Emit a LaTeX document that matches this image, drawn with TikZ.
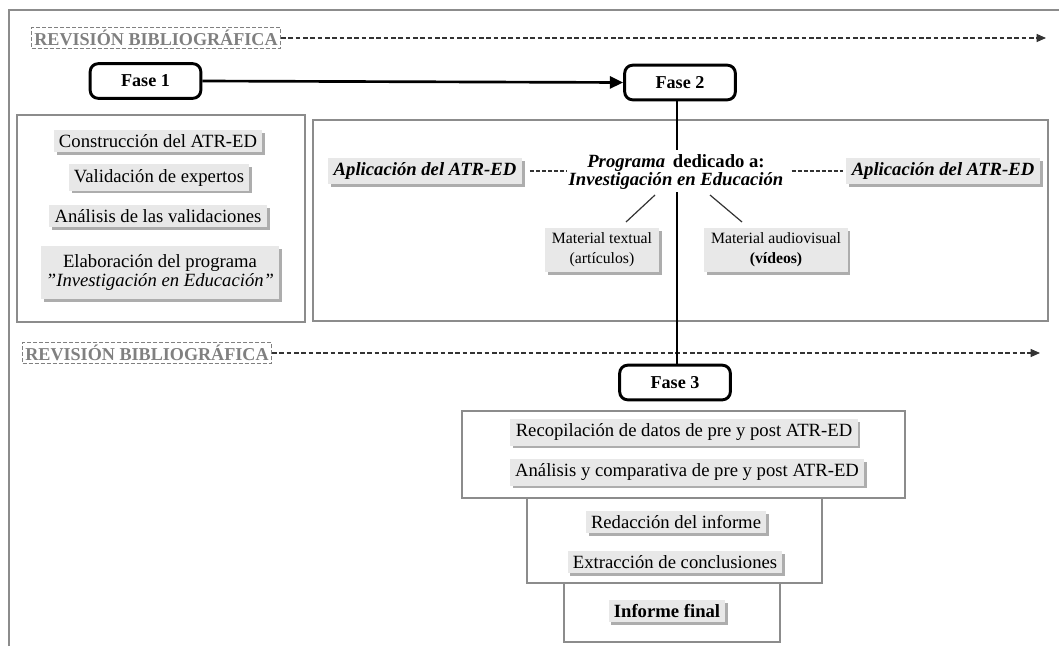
\documentclass[tikz,border=0pt]{standalone}
\usepackage{fontspec}
\setmainfont{Liberation Serif}
\usetikzlibrary{shadows,arrows.meta,calc}
\definecolor{itemfill}{gray}{0.91}
\definecolor{itemshadow}{gray}{0.68}
\definecolor{boxline}{gray}{0.55}
\definecolor{revgray}{gray}{0.5}
\tikzset{
  item/.style={fill=itemfill, inner xsep=4pt, inner ysep=3.4pt, align=center,
    font=\fontsize{14}{14.6}\selectfont,
    drop shadow={shadow xshift=2.2pt, shadow yshift=-2.2pt, fill=itemshadow, opacity=1}},
  smallitem/.style={item, font=\fontsize{11.8}{15}\selectfont, inner ysep=3.6pt, inner xsep=5pt},
  fasebox/.style={draw=black, line width=2.2pt, rounded corners=6pt, minimum width=83pt,
    minimum height=26pt, font=\fontsize{13.6}{14}\selectfont\bfseries},
  revbox/.style={draw=revgray, dashed, dash pattern=on 3pt off 1.5pt, line width=1pt,
    text=revgray, font=\fontsize{13.6}{14}\selectfont\bfseries, inner xsep=2pt, inner ysep=2pt},
  revline/.style={draw=black!80, line width=0.8pt, dash pattern=on 3.5pt off 2pt,
    -{Triangle[length=7pt,width=6pt]}},
  grayframe/.style={draw=boxline, line width=1pt},
  connector/.style={draw=black, line width=2pt},
  thinline/.style={draw=black!80, line width=0.9pt},
  dashlink/.style={draw=black!80, line width=0.8pt, dash pattern=on 3pt off 1.5pt},
}
\begin{document}
\begin{tikzpicture}[x=0.75pt,y=-0.75pt]
\useasboundingbox (0,0) rectangle (1059,646);
\fill[white] (0,0) rectangle (1059,646);
% outer frame
\draw[draw=boxline, line width=1pt] (9,646) -- (9,10) -- (1059,10);

% group frames
\draw[grayframe] (17,115) rectangle (305,322);
\draw[grayframe] (313,120) rectangle (1048,321);
\draw[grayframe] (462,411) rectangle (905,498);
\draw[grayframe] (527,498) rectangle (822,583);
\draw[grayframe] (564,583) rectangle (780,642);

% revision bibliografica
\node[revbox] (rev1) at (156,38) {REVISIÓN BIBLIOGRÁFICA};
\coordinate (rev1end) at (1046,38);
\draw[revline] (rev1.east) -- (rev1end);
\node[revbox] (rev2) at (147,353) {REVISIÓN BIBLIOGRÁFICA};
\coordinate (rev2end) at (1040,353);
\draw[revline] (rev2.east) -- (rev2end);

% phases
\node[fasebox] (f1) at (145.5,81) {Fase 1};
\node[fasebox] (f2) at (680,82.5) {Fase 2};
\node[fasebox] (f3) at (675,382.5) {Fase 3};
\draw[connector, -{Triangle[length=10pt,width=9pt]}] (f1.east) -- (f2.west);

% fase 1 items
\node[item] (c1) at (158,141) {Construcción del ATR-ED};
\node[item] (c2) at (159,177.5) {Validación de expertos};
\node[item] (c3) at (158,216) {Análisis de las validaciones};
\node[item, inner ysep=6pt] (c4) at (160,272.5) {Elaboración del programa\\\textit{\char34 Investigación en Educación\char34}};

% fase 2 content
\node[align=center, inner sep=0pt, font=\fontsize{14}{13.5}\selectfont\bfseries\itshape] (prog) at (676,172)
  {Programa\, \upshape dedicado a:\\Investigación en Educación};
\coordinate (vtop) at (677,150);
\coordinate (vbot) at (677,192);
\draw[connector] (f2.south -| vtop) -- (vtop);
\draw[connector] (vbot) -- (f3.north -| vbot);

\node[item, font=\fontsize{14}{14.6}\selectfont\bfseries\itshape] (ap1) at (425,171) {Aplicación del ATR-ED};
\node[item, font=\fontsize{14}{14.6}\selectfont\bfseries\itshape] (ap2) at (943,171) {Aplicación del ATR-ED};
\draw[dashlink] ([xshift=6pt]ap1.east) -- ([xshift=-1pt]prog.west |- ap1.east);
\draw[dashlink] ([xshift=6pt]prog.east |- ap2.west) -- ([xshift=-2pt]ap2.west);

\node[smallitem] (mt) at (602,250) {Material textual\\(artículos)};
\node[smallitem] (ma) at (776,250) {Material audiovisual\\\textbf{(vídeos)}};
\coordinate (mtA) at (655,195);
\coordinate (mtB) at (626,222);
\coordinate (maA) at (710,195);
\coordinate (maB) at (742,222);
\draw[thinline] (mtA) -- (mtB);
\draw[thinline] (maA) -- (maB);

% fase 3 items
\node[item] (d1) at (684,432.5) {Recopilación de datos de pre y post ATR-ED};
\node[item] (d2) at (687,472.5) {Análisis y comparativa de pre y post ATR-ED};
\node[item] (d3) at (676,522) {Redacción del informe};
\node[item] (d4) at (675,562) {Extracción de conclusiones};
\node[item, font=\fontsize{14}{14.6}\selectfont\bfseries] (d5) at (667,611) {Informe final};
\end{tikzpicture}
\end{document}
